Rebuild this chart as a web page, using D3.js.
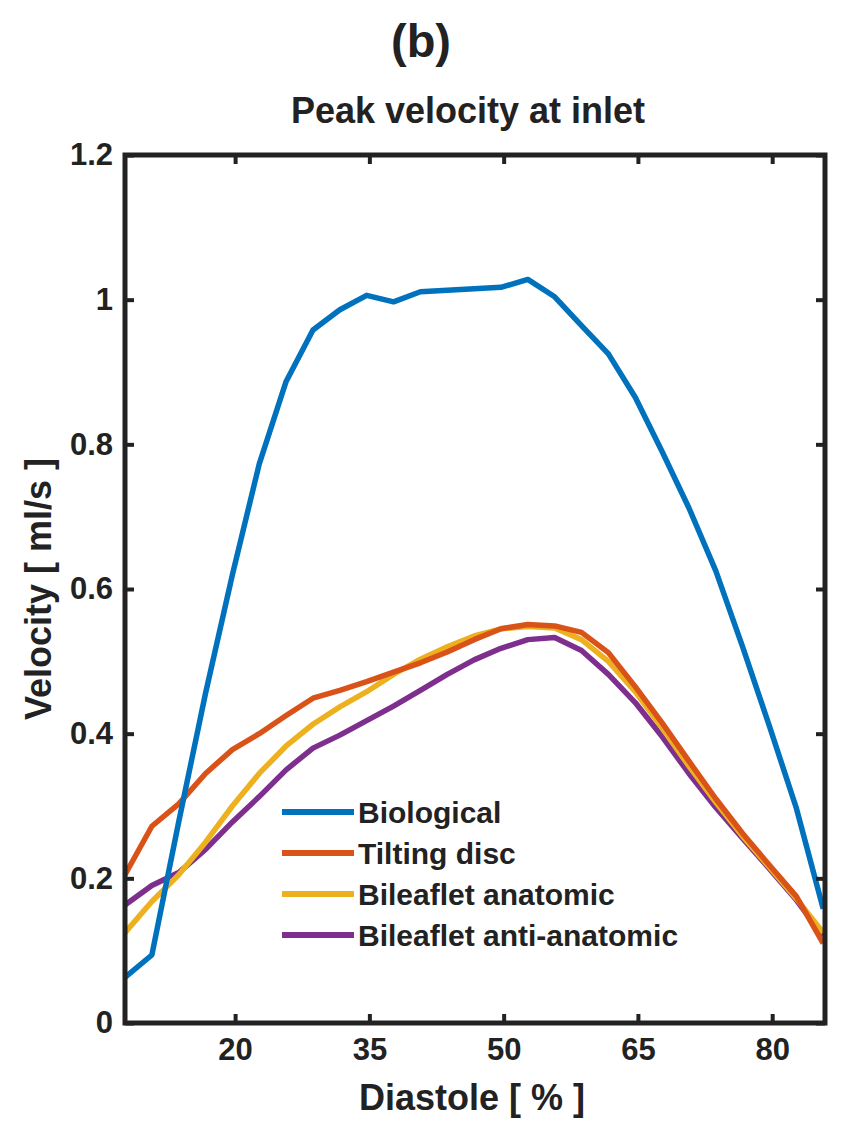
<!DOCTYPE html>
<meta charset="utf-8">

<head>
    <title>Peak velocity at inlet</title>
    <meta charset="utf-8">
    <script type="text/javascript" src="https://d3js.org/d3.v7.min.js"></script>
    <style>
        body { margin: 0; background: #fff; }
        text { font-family: "Liberation Sans", Arial, sans-serif; font-weight: bold; fill: #222; }
    </style>
</head>

<body>
    <div id="chart"></div>

    <script>

        // data (diastole % vs peak velocity)
        var diastole = [7.7, 10.7, 13.7, 16.7, 19.7, 22.7, 25.7, 28.7, 31.7, 34.7, 37.7, 40.7, 43.7, 46.7,
            49.7, 52.7, 55.7, 58.7, 61.7, 64.7, 67.7, 70.7, 73.7, 76.7, 79.7, 82.7, 85.7];

        var biological = [0.063, 0.094, 0.278, 0.456, 0.620, 0.773, 0.887, 0.958, 0.986, 1.006, 0.997, 1.011, 1.013, 1.015,
            1.017, 1.028, 1.004, 0.964, 0.925, 0.865, 0.790, 0.712, 0.625, 0.520, 0.410, 0.297, 0.158];

        var tilting = [0.205, 0.272, 0.303, 0.345, 0.378, 0.400, 0.425, 0.449, 0.460, 0.472, 0.485, 0.498, 0.513, 0.530,
            0.545, 0.551, 0.549, 0.540, 0.512, 0.465, 0.415, 0.362, 0.310, 0.262, 0.218, 0.175, 0.110];

        var anatomic = [0.125, 0.168, 0.205, 0.250, 0.300, 0.345, 0.383, 0.413, 0.437, 0.458, 0.482, 0.503, 0.520, 0.535,
            0.545, 0.548, 0.546, 0.530, 0.500, 0.458, 0.408, 0.355, 0.305, 0.258, 0.215, 0.172, 0.125];

        var antiAnatomic = [0.163, 0.190, 0.208, 0.240, 0.278, 0.313, 0.350, 0.380, 0.398, 0.418, 0.438, 0.460, 0.482, 0.502,
            0.518, 0.530, 0.533, 0.515, 0.482, 0.443, 0.396, 0.345, 0.298, 0.255, 0.213, 0.170, 0.120];

        var seriesNames = ["Biological", "Tilting disc", "Bileaflet anatomic", "Bileaflet anti-anatomic"];
        var seriesColors = ["#0072BD", "#D95319", "#EDB120", "#7E2F8E"];
        var xTicks = [20, 35, 50, 65, 80];
        var yTicks = [0, 0.2, 0.4, 0.6, 0.8, 1, 1.2];

        var series = [biological, tilting, anatomic, antiAnatomic].map(function (vals, i) {
            return {
                name: seriesNames[i],
                color: seriesColors[i],
                values: vals.map(function (v, j) { return { x: diastole[j], y: v }; })
            };
        });

        // dimensions
        var width = 842, height = 1128;
        var margin = { top: 155, right: 17, bottom: 105, left: 125 };

        var svg = d3.select("#chart").append("svg")
            .attr("width", width)
            .attr("height", height);

        var x = d3.scaleLinear().domain([7.7, 85.9]).range([margin.left, width - margin.right]);
        var y = d3.scaleLinear().domain([0, 1.2]).range([height - margin.bottom, margin.top]);

        // lines
        var line = d3.line()
            .x(function (d) { return x(d.x); })
            .y(function (d) { return y(d.y); });

        var plot = svg.append("g");
        plot.selectAll("path.series")
            .data(series.slice().reverse())
            .enter()
            .append("path")
            .attr("class", "series")
            .attr("d", function (d) { return line(d.values); })
            .attr("fill", "none")
            .attr("stroke", function (d) { return d.color; })
            .attr("stroke-width", 5.5)
            .attr("stroke-linejoin", "round");

        // axes (MATLAB box style, ticks inside on all sides)
        var tickLen = 9;
        var bottomAxis = d3.axisBottom(x).tickValues(xTicks).tickSize(-tickLen).tickPadding(15);
        var topAxis = d3.axisTop(x).tickValues(xTicks).tickSize(-tickLen).tickFormat("");
        var leftAxis = d3.axisLeft(y).tickValues(yTicks).tickSize(-tickLen).tickPadding(12)
            .tickFormat(function (d) { return d3.format("")(+d.toFixed(1)); });
        var rightAxis = d3.axisRight(y).tickValues(yTicks).tickSize(-tickLen).tickFormat("");

        function styleAxis(g) {
            g.select(".domain").remove();
            g.selectAll(".tick line").attr("stroke", "#222").attr("stroke-width", 4);
            g.selectAll(".tick text").attr("fill", "#222").style("font-size", "31px")
                .style("font-family", "'Liberation Sans', Arial, sans-serif").style("font-weight", "bold");
        }

        svg.append("g").attr("transform", "translate(0," + y(0) + ")").call(bottomAxis).call(styleAxis);
        svg.append("g").attr("transform", "translate(0," + y(1.2) + ")").call(topAxis).call(styleAxis);
        svg.append("g").attr("transform", "translate(" + x.range()[0] + ",0)").call(leftAxis).call(styleAxis);
        svg.append("g").attr("transform", "translate(" + x.range()[1] + ",0)").call(rightAxis).call(styleAxis);

        // box
        svg.append("rect")
            .attr("x", x.range()[0])
            .attr("y", y(1.2))
            .attr("width", x.range()[1] - x.range()[0])
            .attr("height", y(0) - y(1.2))
            .attr("fill", "none")
            .attr("stroke", "#222")
            .attr("stroke-width", 5);

        // axis labels
        svg.append("text")
            .attr("x", 472)
            .attr("y", 1110)
            .attr("text-anchor", "middle")
            .style("font-size", "36px")
            .text("Diastole [ % ]");

        svg.append("text")
            .attr("transform", "translate(51," + (y(0) + y(1.2)) / 2 + ") rotate(-90)")
            .attr("text-anchor", "middle")
            .style("font-size", "36px")
            .text("Velocity [ ml/s ]");

        // titles
        svg.append("text")
            .attr("x", 468)
            .attr("y", 123)
            .attr("text-anchor", "middle")
            .style("font-size", "36px")
            .text("Peak velocity at inlet");

        svg.append("text")
            .attr("x", 421)
            .attr("y", 57)
            .attr("text-anchor", "middle")
            .style("font-size", "47px")
            .text("(b)");

        // legend
        var legend = svg.append("g").attr("transform", "translate(282,812)");
        var rows = legend.selectAll("g")
            .data(series)
            .enter()
            .append("g")
            .attr("transform", function (d, i) { return "translate(0," + i * 41 + ")"; });

        rows.append("line")
            .attr("x1", 0).attr("x2", 72)
            .attr("stroke", function (d) { return d.color; })
            .attr("stroke-width", 6);

        rows.append("text")
            .attr("x", 76)
            .attr("dy", "0.36em")
            .style("font-size", "30px")
            .text(function (d) { return d.name; });

    </script>

</body>

</html>
